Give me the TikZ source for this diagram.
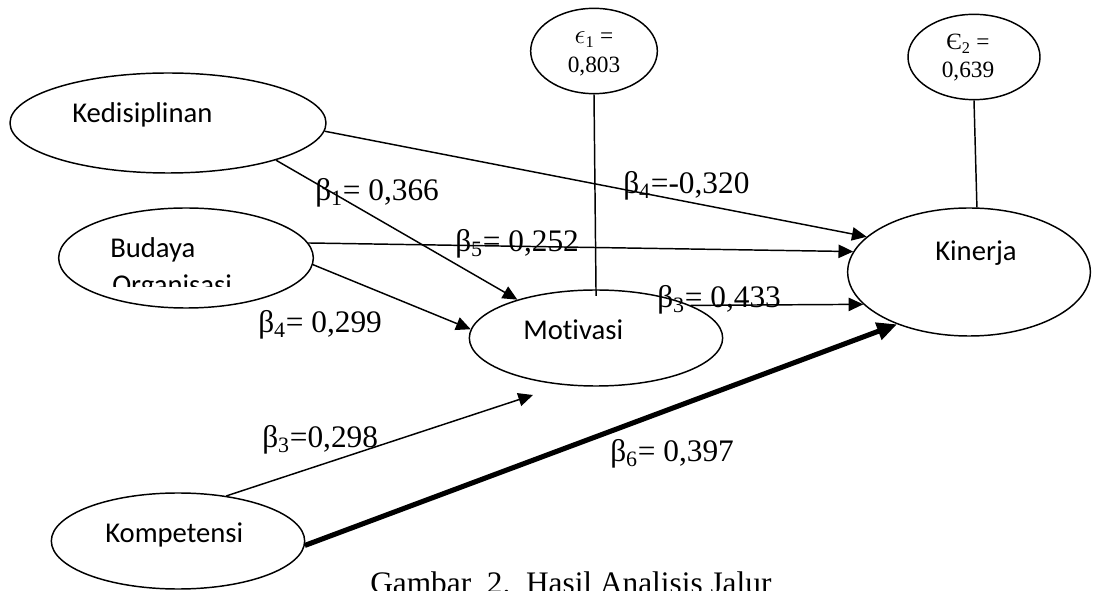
\documentclass[tikz,border=0pt]{standalone}
\usepackage{fontspec}
\setmainfont{Liberation Serif}
\newfontfamily\calibri[Ligatures=NoCommon]{Carlito}
\usetikzlibrary{shapes.geometric,arrows.meta}
\tikzset{
  var/.style={draw, ellipse, line width=1.1pt, inner sep=0pt},
  vartext/.style={font=\calibri\fontsize{21.5}{25}\selectfont, inner sep=0pt, anchor=base west},
  coef/.style={font=\fontsize{23.5}{27}\selectfont, inner sep=0pt, anchor=base west},
  errtext/.style={font=\fontsize{17.5}{20}\selectfont, inner sep=0pt, anchor=base},
  arr/.style={-{Triangle[length=11pt,width=10pt]}, line width=1.1pt},
  bigarr/.style={-{Triangle[length=15pt,width=13pt]}, line width=3.8pt},
}
\begin{document}
\begin{tikzpicture}[x=0.75pt,y=-0.75pt]
      \useasboundingbox (0,0) rectangle (1093,591);
      \clip (0,0) rectangle (1093,591);
      \draw
        (168,123) node[var, minimum width=237pt, minimum height=75pt] (ked){}
        (186,258) node[var, minimum width=191pt, minimum height=75pt] (bud){}
        (596,338) node[var, minimum width=190pt, minimum height=72pt] (mot){}
        (969,272) node[var, minimum width=182pt, minimum height=96pt] (kin){}
        (178,541) node[var, minimum width=190pt, minimum height=72pt] (kom){}
        (594,51) node[var, minimum width=95pt, minimum height=64pt] (eps1){}
        (974,57) node[var, minimum width=99pt, minimum height=64pt] (eps2){};
      \node[vartext] (kedtxt) at (72,123) {Kedisiplinan};
      \begin{scope}
        \clip (100,225) rectangle (300,287);
        \node[vartext] (budtxt) at (110,258) {Budaya};
        \node[vartext] (orgtxt) at (112,295) {Organisasi};
      \end{scope}
      \node[vartext] (mottxt) at (523,340) {Motivasi};
      \node[vartext] (kintxt) at (935,261) {Kinerja};
      \node[vartext] (komtxt) at (105,542) {Kompetensi};
      \node[errtext] (eps1a) at (594,44) {{\fontsize{21}{24}\selectfont$\epsilon$}\textsubscript{1} =};
      \node[errtext] (eps1b) at (594,73) {0,803};
      \node[errtext] (eps2a) at (968,50) {Є\textsubscript{2} =};
      \node[errtext] (eps2b) at (968,78) {0,639};
      \coordinate (motlow) at (533,395);
      \begin{scope}[-]
        \draw[line width=1.1pt, shorten >=-5pt] (eps1.south) to (mot.north);
        \draw[line width=1.1pt] (eps2.south) to (kin.83);
      \end{scope}
      \begin{scope}[arr]
        \draw (ked.-3) to (kin.161);
        \draw (ked.-19) to (mot.154);
        \draw (bud.7) to (kin.170);
        \draw (bud.-3) to (mot.176);
        \draw (mot.19) to (kin.197);
        \draw (kom.43) to (motlow);
      \end{scope}
      \draw[bigarr] (kom.-2) to (kin.216);
      \node[coef] (b1) at (315,201) {β\textsubscript{1}= 0,366};
      \node[coef] (b4a) at (623,194) {β\textsubscript{4}=-0,320};
      \node[coef] (b5) at (455,252) {β\textsubscript{5}= 0,252};
      \node[coef] (b3a) at (657,308) {β\textsubscript{3}= 0,433};
      \node[coef] (b4b) at (258,333) {β\textsubscript{4}= 0,299};
      \node[coef] (b3b) at (262,448) {β\textsubscript{3}=0,298};
      \node[coef] (b6) at (610,462) {β\textsubscript{6}= 0,397};
      \node[coef] (cap) at (370,594) {Gambar\ \ 2.\ \ Hasil Analisis Jalur};
    \end{tikzpicture}
\end{document}
